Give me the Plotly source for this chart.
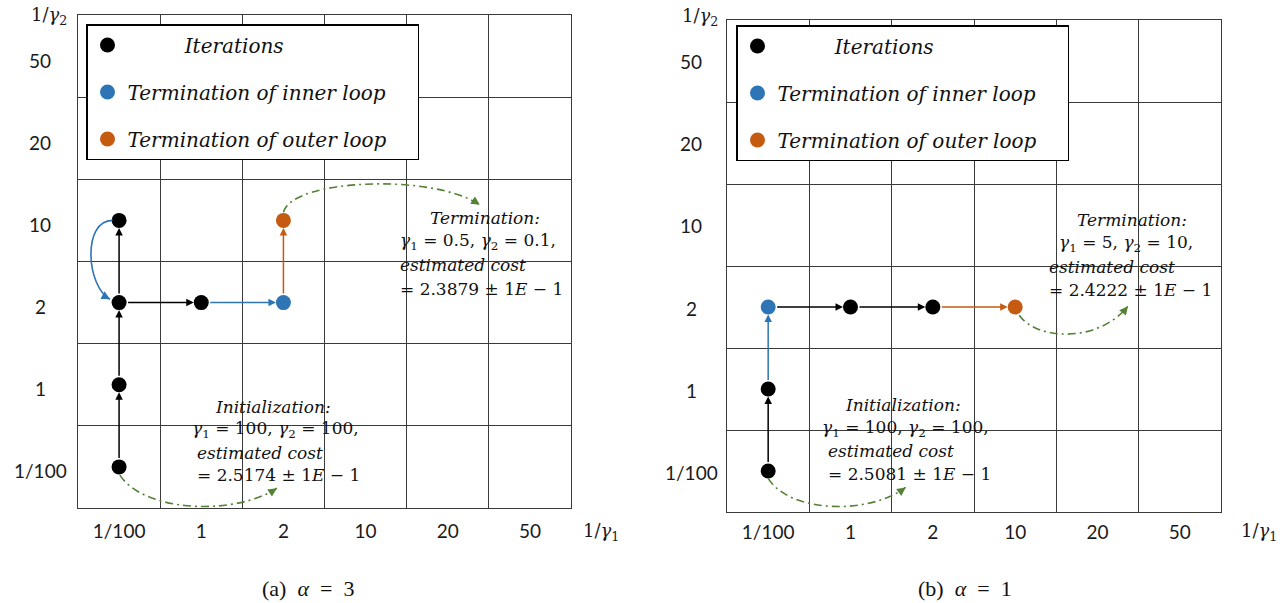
import plotly.graph_objects as go

W, H = 1284, 603

# ---- axis categories (same for both panels) ----
gamma1_labels = ['1/100', '1', '2', '10', '20', '50']
gamma2_labels = ['1/100', '1', '2', '10', '20', '50']

# ---- panel (a): alpha = 3 ----
a_iter_x = ['1/100', '1/100', '1/100', '1/100', '1']
a_iter_y = ['1/100', '1', '2', '10', '2']
a_inner_x = ['2']
a_inner_y = ['2']
a_outer_x = ['2']
a_outer_y = ['10']
# moves between grid points: (from_x, from_y, to_x, to_y, kind)
a_moves = [
    ('1/100', '1/100', '1/100', '1', 'iter'),
    ('1/100', '1', '1/100', '2', 'iter'),
    ('1/100', '2', '1/100', '10', 'iter'),
    ('1/100', '2', '1', '2', 'iter'),
    ('1', '2', '2', '2', 'inner'),
    ('2', '2', '2', '10', 'outer'),
]
a_init = ['100', '100', '2.5174']
a_term = ['0.5', '0.1', '2.3879']

# ---- panel (b): alpha = 1 ----
b_iter_x = ['1/100', '1/100', '1', '2']
b_iter_y = ['1/100', '1', '2', '2']
b_inner_x = ['1/100']
b_inner_y = ['2']
b_outer_x = ['10']
b_outer_y = ['2']
b_moves = [
    ('1/100', '1/100', '1/100', '1', 'iter'),
    ('1/100', '1', '1/100', '2', 'inner'),
    ('1/100', '2', '1', '2', 'iter'),
    ('1', '2', '2', '2', 'iter'),
    ('2', '2', '10', '2', 'outer'),
]
b_init = ['100', '100', '2.5081']
b_term = ['5', '10', '2.4222']

COL = {'iter': '#000000', 'inner': '#2E75B6', 'outer': '#C55A11'}
GREEN = '#548235'
GRID = '#3a3a3a'
NB = '\u00a0'
SERIF = "'DejaVu Serif', 'Liberation Serif', serif"
SANS = "Lato, 'Liberation Sans', sans-serif"
DASHDOT = '8px,4px,2px,4px'

# panel boxes in pixels: left, right, top, bottom
PANELS = {
    'a': dict(xa='x', ya='y', l=78, r=571, t=15, b=508),
    'b': dict(xa='x2', ya='y2', l=727, r=1221, t=20, b=512),
}


def px(x):
    return x / W


def py(y):
    return 1 - y / H


def gx(v):
    return gamma1_labels.index(v)


def gy(v):
    return gamma2_labels.index(v)


fig = go.Figure()
annotations = []
shapes = []


def add_points(key, ix, iy, nx, ny, ox, oy, legend):
    p = PANELS[key]
    for name, xs, ys, kind in [
        (NB * 9 + 'Iterations', ix, iy, 'iter'),
        ('Termination of inner loop' + NB * 4, nx, ny, 'inner'),
        ('Termination of outer loop' + NB * 4, ox, oy, 'outer'),
    ]:
        fig.add_trace(go.Scatter(
            x=[gx(v) for v in xs], y=[gy(v) for v in ys],
            mode='markers', name=name,
            marker=dict(size=15, color=COL[kind]),
            xaxis=p['xa'], yaxis=p['ya'],
            legend=legend, legendgroup=key + kind, showlegend=True,
            hoverinfo='skip',
        ))


def add_moves(key, moves):
    p = PANELS[key]
    for fx, fy, tx, ty, kind in moves:
        annotations.append(dict(
            x=gx(tx), y=gy(ty), ax=gx(fx), ay=gy(fy),
            xref=p['xa'], yref=p['ya'], axref=p['xa'], ayref=p['ya'],
            text='', showarrow=True, arrowhead=2, arrowsize=1,
            arrowwidth=1.5, arrowcolor=COL[kind],
            standoff=7.5, startstandoff=7.5,
        ))


def add_curve(key, pts, color, dash, width=1.6):
    """Cubic Bezier connector in data units with an arrowhead at its end."""
    p = PANELS[key]
    (x0, y0), (x1, y1), (x2, y2), (x3, y3) = pts
    shapes.append(dict(
        type='path', xref=p['xa'], yref=p['ya'],
        path=f'M {x0},{y0} C {x1},{y1} {x2},{y2} {x3},{y3}',
        line=dict(color=color, width=width, dash=dash),
    ))
    sx = (p['r'] - p['l']) / 6.0
    sy = (p['b'] - p['t']) / 6.0
    dx = (x3 - x2) * sx
    dy = -(y3 - y2) * sy
    n = (dx * dx + dy * dy) ** 0.5
    L = 8.5
    annotations.append(dict(
        x=x3, y=y3, xref=p['xa'], yref=p['ya'],
        ax=-dx / n * L, ay=-dy / n * L,
        text='', showarrow=True, arrowhead=2, arrowsize=1.15,
        arrowwidth=1.5, arrowcolor=color,
    ))


def add_note(x_lines, y_first, title, g1, g2, cost, step=23.5):
    """Four-line note; x_lines gives the left edge of each line in pixels."""
    lines = [
        f'<i>{title}</i>',
        f'<i>γ</i><sub>1</sub> = {g1}, <i>γ</i><sub>2</sub> = {g2},',
        '<i>estimated cost</i>',
        f'= {cost} ± 1<i>E</i> − 1',
    ]
    for i, (xl, s) in enumerate(zip(x_lines, lines)):
        annotations.append(dict(
            x=px(xl), y=py(y_first + i * step), xref='paper', yref='paper',
            xanchor='left', yanchor='middle', align='left', showarrow=False,
            text=s, font=dict(family=SERIF, size=17, color='#111111'),
        ))


# ---- panel (a) ----
add_points('a', a_iter_x, a_iter_y, a_inner_x, a_inner_y, a_outer_x, a_outer_y, 'legend')
add_moves('a', a_moves)
# inner-loop return from 1/gamma2 = 10 back to 2
add_curve('a', [(gx('1/100') - 0.08, gy('10')), (-0.45, 3.0), (-0.40, 2.2),
                (gx('1/100') - 0.11, gy('2') + 0.04)], COL['inner'], 'solid', 1.6)
add_curve('a', [(gx('1/100') + 0.01, gy('1/100') - 0.1), (0.3, -0.55), (1.4, -0.6), (1.92, -0.26)],
          GREEN, DASHDOT)
add_curve('a', [(gx('2'), gy('10') + 0.1), (2.1, 3.5), (3.8, 3.58), (4.39, 3.19)],
          GREEN, DASHDOT)
add_note([428, 398, 398, 398], 218, 'Termination:', *a_term)
add_note([213, 190, 195, 195], 407, 'Initialization:', *a_init, step=22.8)

# ---- panel (b) ----
add_points('b', b_iter_x, b_iter_y, b_inner_x, b_inner_y, b_outer_x, b_outer_y, 'legend2')
add_moves('b', b_moves)
add_curve('b', [(gx('10') + 0.05, gy('2') - 0.1), (3.25, 1.6), (4.0, 1.55), (4.37, 2.01)],
          GREEN, DASHDOT)
add_curve('b', [(gx('1/100'), gy('1/100') - 0.09), (0.25, -0.5), (1.2, -0.55), (1.67, -0.2)],
          GREEN, DASHDOT)
add_note([1075, 1057, 1047, 1047], 220, 'Termination:', *b_term, step=23.3)
add_note([843, 820, 826, 826], 405, 'Initialization:', *b_init, step=23.0)

# ---- vertical tick labels (centred in the left gutter) ----
for key, xc, shift in [('a', 40, -4), ('b', 691, -1)]:
    p = PANELS[key]
    for lbl in gamma2_labels:
        annotations.append(dict(
            x=px(xc), y=gy(lbl), xref='paper', yref=p['ya'], yshift=shift,
            text=lbl, showarrow=False, xanchor='center', yanchor='middle',
            font=dict(family=SANS, size=19, color='#1a1a1a'),
        ))

# ---- axis titles ----
title_font = dict(family=SERIF, size=18, color='#1a1a1a')
for x_c, y_c, s in [(49, 16, '2'), (700, 17, '2'), (601, 532, '1'), (1259, 532, '1')]:
    annotations.append(dict(
        x=px(x_c), y=py(y_c), xref='paper', yref='paper', showarrow=False,
        xanchor='center', yanchor='middle',
        text=f'1/<i>γ</i><sub>{s}</sub>', font=title_font,
    ))

# ---- sub-captions ----
for x_c, lab, alpha in [(308, '(a)', '3'), (965, '(b)', '1')]:
    annotations.append(dict(
        x=px(x_c), y=py(588), xref='paper', yref='paper', showarrow=False,
        xanchor='center', yanchor='middle',
        text=f'{lab}{NB}{NB}<i>α</i>{NB}{NB}={NB}{NB}{alpha}',
        font=dict(family="'Liberation Serif', 'DejaVu Serif', serif", size=22, color='#111111'),
    ))


def axis_common():
    return dict(
        range=[-0.5, 5.5], fixedrange=True, zeroline=False, showgrid=False,
        showline=True, mirror=True, linecolor=GRID, linewidth=1.2,
        ticks='', automargin=False,
        minor=dict(tickmode='linear', tick0=0.5, dtick=1, showgrid=True,
                   gridcolor=GRID, gridwidth=1),
    )


def xaxis(key):
    p = PANELS[key]
    d = axis_common()
    d.update(domain=[px(p['l']), px(p['r'])], tickmode='array',
             tickvals=list(range(6)), ticktext=gamma1_labels,
             tickfont=dict(family=SANS, size=19, color='#1a1a1a'),
             ticklabelstandoff=6 if key == 'a' else 3)
    return d


def yaxis(key):
    p = PANELS[key]
    d = axis_common()
    d.update(domain=[py(p['b']), py(p['t'])], showticklabels=False,
             tickmode='array', tickvals=list(range(6)))
    return d


legend_common = dict(
    xanchor='left', yanchor='top', bgcolor='white', bordercolor='black',
    borderwidth=1.5, tracegroupgap=18, itemclick=False, itemdoubleclick=False,
    font=dict(family=SERIF, size=20, style='italic', color='#111111'),
)

fig.update_layout(
    template='none', width=W, height=H,
    margin=dict(l=0, r=0, t=0, b=0, autoexpand=False),
    paper_bgcolor='white', plot_bgcolor='white',
    xaxis=xaxis('a'), yaxis=dict(yaxis('a'), anchor='x'),
    xaxis2=dict(xaxis('b'), anchor='y2'), yaxis2=dict(yaxis('b'), anchor='x2'),
    legend=dict(legend_common, x=px(86), y=py(24)),
    legend2=dict(legend_common, x=px(736), y=py(25)),
    annotations=annotations, shapes=shapes,
    hovermode=False,
)

fig.write_html('out.html')
